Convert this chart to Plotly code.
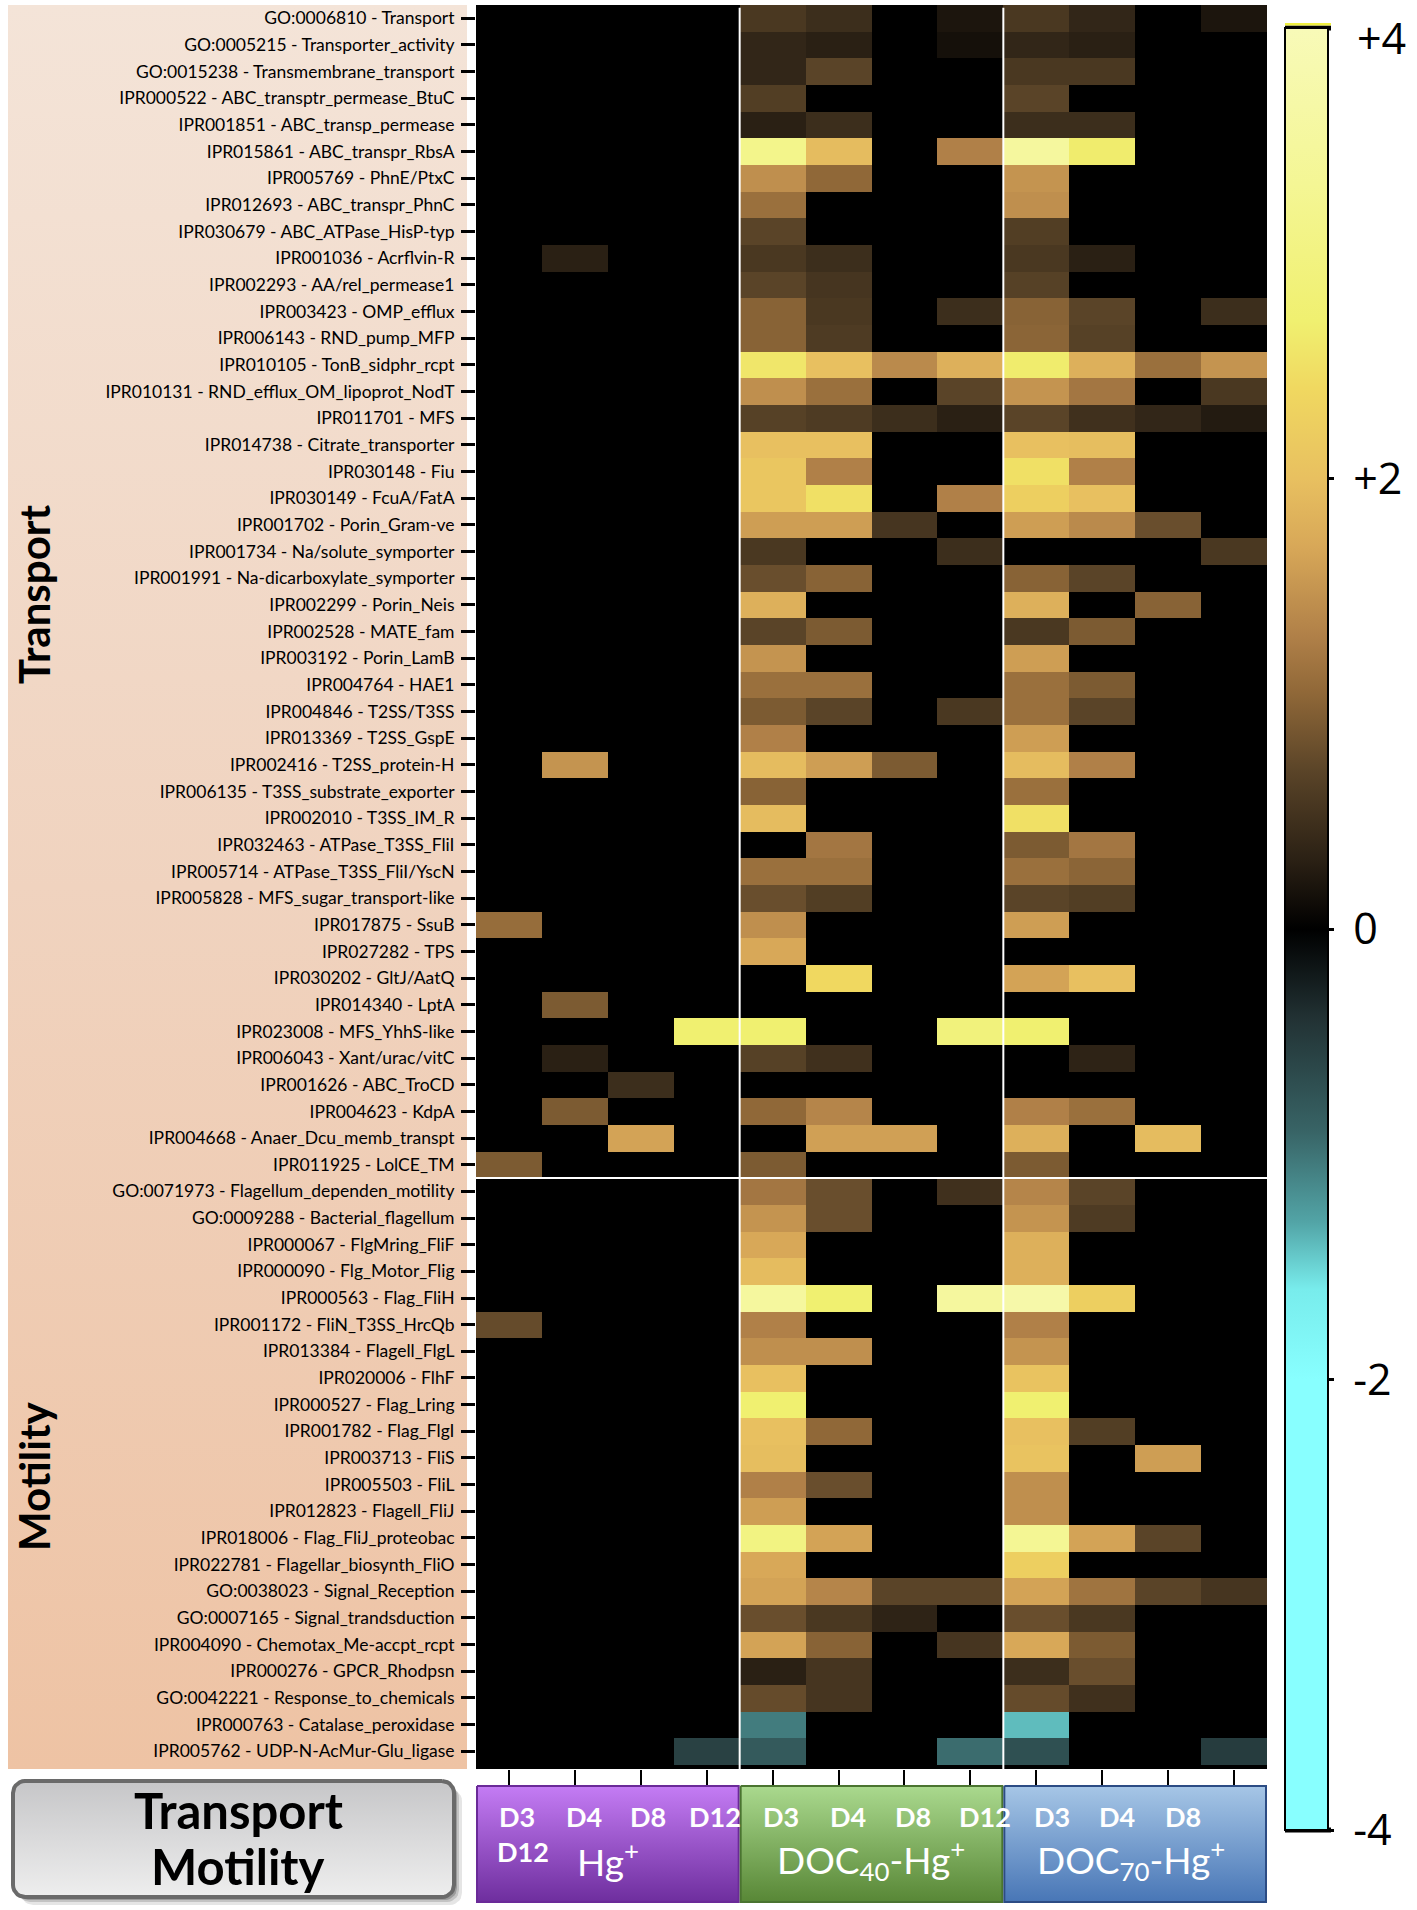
import numpy as np
import plotly.graph_objects as go

W, H = 1417, 1910

row_labels = [
    "GO:0006810 - Transport", "GO:0005215 - Transporter_activity", "GO:0015238 - Transmembrane_transport",
    "IPR000522 - ABC_transptr_permease_BtuC", "IPR001851 - ABC_transp_permease", "IPR015861 - ABC_transpr_RbsA",
    "IPR005769 - PhnE/PtxC", "IPR012693 - ABC_transpr_PhnC", "IPR030679 - ABC_ATPase_HisP-typ",
    "IPR001036 - Acrflvin-R", "IPR002293 - AA/rel_permease1", "IPR003423 - OMP_efflux",
    "IPR006143 - RND_pump_MFP", "IPR010105 - TonB_sidphr_rcpt", "IPR010131 - RND_efflux_OM_lipoprot_NodT",
    "IPR011701 - MFS", "IPR014738 - Citrate_transporter", "IPR030148 - Fiu",
    "IPR030149 - FcuA/FatA", "IPR001702 - Porin_Gram-ve", "IPR001734 - Na/solute_symporter",
    "IPR001991 - Na-dicarboxylate_symporter", "IPR002299 - Porin_Neis", "IPR002528 - MATE_fam",
    "IPR003192 - Porin_LamB", "IPR004764 - HAE1", "IPR004846 - T2SS/T3SS",
    "IPR013369 - T2SS_GspE", "IPR002416 - T2SS_protein-H", "IPR006135 - T3SS_substrate_exporter",
    "IPR002010 - T3SS_IM_R", "IPR032463 - ATPase_T3SS_FliI", "IPR005714 - ATPase_T3SS_FliI/YscN",
    "IPR005828 - MFS_sugar_transport-like", "IPR017875 - SsuB", "IPR027282 - TPS",
    "IPR030202 - GltJ/AatQ", "IPR014340 - LptA", "IPR023008 - MFS_YhhS-like",
    "IPR006043 - Xant/urac/vitC", "IPR001626 - ABC_TroCD", "IPR004623 - KdpA",
    "IPR004668 - Anaer_Dcu_memb_transpt", "IPR011925 - LolCE_TM",
    "GO:0071973 - Flagellum_dependen_motility", "GO:0009288 - Bacterial_flagellum", "IPR000067 - FlgMring_FliF",
    "IPR000090 - Flg_Motor_Flig", "IPR000563 - Flag_FliH", "IPR001172 - FliN_T3SS_HrcQb",
    "IPR013384 - Flagell_FlgL", "IPR020006 - FlhF", "IPR000527 - Flag_Lring",
    "IPR001782 - Flag_FlgI", "IPR003713 - FliS", "IPR005503 - FliL",
    "IPR012823 - Flagell_FliJ", "IPR018006 - Flag_FliJ_proteobac", "IPR022781 - Flagellar_biosynth_FliO",
    "GO:0038023 - Signal_Reception", "GO:0007165 - Signal_trandsduction", "IPR004090 - Chemotax_Me-accpt_rcpt",
    "IPR000276 - GPCR_Rhodpsn", "GO:0042221 - Response_to_chemicals", "IPR000763 - Catalase_peroxidase",
    "IPR005762 - UDP-N-AcMur-Glu_ligase",
]
n_transport = 44

days = ["D3", "D4", "D8", "D12"]
group_names = ["Hg<sup>+</sup>", "DOC<sub>40</sub>-Hg<sup>+</sup>", "DOC<sub>70</sub>-Hg<sup>+</sup>"]

# log fold change values, columns D3, D4, D8, D12
hg_vals = [
    [0, 0, 0, 0], [0, 0, 0, 0], [0, 0, 0, 0], [0, 0, 0, 0], [0, 0, 0, 0], [0, 0, 0, 0],
    [0, 0, 0, 0], [0, 0, 0, 0], [0, 0, 0, 0], [0, 0.3, 0, 0], [0, 0, 0, 0], [0, 0, 0, 0],
    [0, 0, 0, 0], [0, 0, 0, 0], [0, 0, 0, 0], [0, 0, 0, 0], [0, 0, 0, 0], [0, 0, 0, 0],
    [0, 0, 0, 0], [0, 0, 0, 0], [0, 0, 0, 0], [0, 0, 0, 0], [0, 0, 0, 0], [0, 0, 0, 0],
    [0, 0, 0, 0], [0, 0, 0, 0], [0, 0, 0, 0], [0, 0, 0, 0], [0, 1.5, 0, 0], [0, 0, 0, 0],
    [0, 0, 0, 0], [0, 0, 0, 0], [0, 0, 0, 0], [0, 0, 0, 0], [1.1, 0, 0, 0], [0, 0, 0, 0],
    [0, 0, 0, 0], [0, 0.92, 0, 0], [0, 0, 0, 2.7], [0, 0.3, 0, 0], [0, 0, 0.45, 0], [0, 0.92, 0, 0],
    [0, 0, 1.65, 0], [0.92, 0, 0, 0],
    [0, 0, 0, 0], [0, 0, 0, 0], [0, 0, 0, 0], [0, 0, 0, 0], [0, 0, 0, 0], [0.77, 0, 0, 0],
    [0, 0, 0, 0], [0, 0, 0, 0], [0, 0, 0, 0], [0, 0, 0, 0], [0, 0, 0, 0], [0, 0, 0, 0],
    [0, 0, 0, 0], [0, 0, 0, 0], [0, 0, 0, 0], [0, 0, 0, 0], [0, 0, 0, 0], [0, 0, 0, 0],
    [0, 0, 0, 0], [0, 0, 0, 0], [0, 0, 0, 0], [0, 0, 0, -0.55],
]

doc40_vals = [
    [0.57, 0.45, 0, 0.2], [0.37, 0.3, 0, 0.15], [0.37, 0.7, 0, 0], [0.63, 0, 0, 0], [0.3, 0.45, 0, 0],
    [3.15, 1.95, 0, 1.3], [1.45, 1.05, 0, 0], [1.13, 0, 0, 0], [0.7, 0, 0, 0], [0.57, 0.45, 0, 0],
    [0.7, 0.53, 0, 0], [1.0, 0.57, 0, 0.45], [1.0, 0.6, 0, 0], [2.58, 2.0, 1.4, 1.8], [1.45, 1.13, 0, 0.7],
    [0.67, 0.6, 0.45, 0.3], [2.0, 2.0, 0, 0], [2.1, 1.3, 0, 0], [2.1, 2.5, 0, 1.3], [1.6, 1.6, 0.53, 0],
    [0.57, 0, 0, 0.45], [0.8, 1.0, 0, 0], [1.8, 0, 0, 0], [0.7, 0.92, 0, 0], [1.5, 0, 0, 0],
    [1.13, 1.13, 0, 0], [0.92, 0.7, 0, 0.57], [1.3, 0, 0, 0], [1.95, 1.6, 0.92, 0], [1.0, 0, 0, 0],
    [1.95, 0, 0, 0], [0, 1.2, 0, 0], [1.13, 1.13, 0, 0], [0.8, 0.63, 0, 0], [1.45, 0, 0, 0],
    [1.7, 0, 0, 0], [0, 2.4, 0, 0], [0, 0, 0, 0], [2.7, 0, 0, 2.9], [0.67, 0.48, 0, 0],
    [0, 0, 0, 0], [1.05, 1.35, 0, 0], [0, 1.62, 1.62, 0], [0.92, 0, 0, 0],
    [1.2, 0.8, 0, 0.48], [1.5, 0.8, 0, 0], [1.7, 0, 0, 0], [1.95, 0, 0, 0], [3.5, 2.7, 0, 3.5],
    [1.3, 0, 0, 0], [1.45, 1.45, 0, 0], [2.0, 0, 0, 0], [2.7, 0, 0, 0], [2.0, 1.05, 0, 0],
    [1.97, 0, 0, 0], [1.3, 0.8, 0, 0], [1.6, 0, 0, 0], [3.0, 1.65, 0, 0], [1.7, 0, 0, 0],
    [1.65, 1.35, 0.7, 0.7], [0.8, 0.57, 0.33, 0], [1.65, 1.0, 0, 0.53], [0.3, 0.53, 0, 0],
    [0.77, 0.53, 0, 0], [-1.05, 0, 0, 0], [-0.8, 0, 0, -0.95],
]

doc70_vals = [
    [0.57, 0.37, 0, 0.2], [0.37, 0.3, 0, 0], [0.57, 0.57, 0, 0], [0.7, 0, 0, 0], [0.45, 0.45, 0, 0],
    [3.5, 2.65, 0, 0], [1.5, 0, 0, 0], [1.45, 0, 0, 0], [0.63, 0, 0, 0], [0.57, 0.3, 0, 0],
    [0.67, 0, 0, 0], [1.0, 0.7, 0, 0.45], [1.02, 0.67, 0, 0], [2.65, 1.8, 1.13, 1.5], [1.5, 1.2, 0, 0.57],
    [0.7, 0.48, 0.37, 0.25], [2.0, 1.97, 0, 0], [2.5, 1.3, 0, 0], [2.25, 2.0, 0, 0], [1.6, 1.4, 0.8, 0],
    [0, 0, 0, 0.57], [1.0, 0.7, 0, 0], [1.8, 0, 1.0, 0], [0.57, 0.92, 0, 0], [1.6, 0, 0, 0],
    [1.13, 0.92, 0, 0], [1.13, 0.7, 0, 0], [1.6, 0, 0, 0], [1.95, 1.3, 0, 0], [1.13, 0, 0, 0],
    [2.5, 0, 0, 0], [0.92, 1.2, 0, 0], [1.13, 1.02, 0, 0], [0.7, 0.63, 0, 0], [1.6, 0, 0, 0],
    [0, 0, 0, 0], [1.65, 2.0, 0, 0], [0, 0, 0, 0], [2.7, 0, 0, 0], [0, 0.33, 0, 0],
    [0, 0, 0, 0], [1.3, 1.13, 0, 0], [1.8, 0, 1.95, 0], [0.92, 0, 0, 0],
    [1.35, 0.7, 0, 0], [1.5, 0.6, 0, 0], [1.8, 0, 0, 0], [1.8, 0, 0, 0], [3.7, 2.25, 0, 0],
    [1.3, 0, 0, 0], [1.5, 0, 0, 0], [2.05, 0, 0, 0], [2.7, 0, 0, 0], [2.0, 0.63, 0, 0],
    [2.05, 0, 1.6, 0], [1.45, 0, 0, 0], [1.45, 0, 0, 0], [3.3, 1.65, 0.7, 0], [2.25, 0, 0, 0],
    [1.65, 1.17, 0.7, 0.53], [0.8, 0.57, 0, 0], [1.7, 0.92, 0, 0], [0.45, 0.8, 0, 0],
    [0.77, 0.48, 0, 0], [-1.4, 0, 0, 0], [-0.7, 0, 0, -0.5],
]

# colour-bar ticks; the top one (+4) sits just below the bar's end, as in the original
cbar_ticks = [2, 0, -2, -4]
cbar_ticktext = ["\u00a0+2", "\u00a00", "\u00a0-2", "\u00a0-4"]
cbar_top_label = "+4"

z = [a + b + c for a, b, c in zip(hg_vals, doc40_vals, doc70_vals)]
n_rows = len(row_labels)
n_cols = len(z[0])

colorscale = [
    [0.0, "#88ffff"], [0.25, "#88ffff"], [0.30, "#78ecec"], [0.3375, "#52a4a6"],
    [0.3875, "#386466"], [0.45, "#223234"], [0.5, "#000000"], [0.5375, "#2a2014"],
    [0.5875, "#5a4428"], [0.63125, "#906838"], [0.6625, "#b08048"], [0.7125, "#d8a858"],
    [0.75, "#e8c060"], [0.8, "#f0d860"], [0.8375, "#f0f070"], [0.9125, "#f4f694"],
    [1.0, "#f8fab8"],
]

# pixel layout
HM_L, HM_R, HM_T, HM_B = 476, 1267, 5, 1769
ROW_H = 26.66
extra_rows = (HM_B - HM_T) / ROW_H - n_rows   # black strip below the last row
CB_L, CB_T, CB_B, CB_W = 1285, 28, 1830, 43

fig = go.Figure()


def grad_rect(x0, y0, x1, y1, c_top, c_bot, line_color=None, line_width=0, mid=None):
    cs = [[0, c_top], [1, c_bot]] if mid is None else [[0, c_top], [0.5, mid], [1, c_bot]]
    fig.add_trace(go.Scatter(
        x=[x0, x1, x1, x0, x0], y=[y0, y0, y1, y1, y0], mode="lines", fill="toself",
        fillgradient=dict(type="vertical", colorscale=cs, start=y0, stop=y1),
        line=dict(color=line_color or "rgba(0,0,0,0)", width=line_width),
        hoverinfo="skip", showlegend=False, xaxis="x", yaxis="y"))


def rounded(x0, y0, x1, y1, r):
    xs, ys = [], []
    for cx, cy, a0 in [(x1 - r, y0 + r, -90), (x1 - r, y1 - r, 0), (x0 + r, y1 - r, 90), (x0 + r, y0 + r, 180)]:
        ang = np.radians(np.linspace(a0, a0 + 90, 8))
        xs += list(cx + r * np.cos(ang))
        ys += list(cy + r * np.sin(ang))
    xs.append(xs[0]); ys.append(ys[0])
    return xs, ys


# left label background
grad_rect(8, HM_T, 467, HM_B, "#F4E4D8", "#EEC3A4", mid="#F0D3BF")

# grey legend box with shadow
GB = (13, 1781, 454, 1897)
for off, alpha in [(8, 0.10), (5, 0.15), (3, 0.2)]:
    sx, sy = rounded(GB[0] + off, GB[1] + off, GB[2] + off, min(GB[3] + off, H - 1), 12)
    fig.add_trace(go.Scatter(x=sx, y=sy, mode="lines", fill="toself", fillcolor=f"rgba(0,0,0,{alpha})",
                             line=dict(width=0, color="rgba(0,0,0,0)"), hoverinfo="skip",
                             showlegend=False, xaxis="x", yaxis="y"))
gx, gy = rounded(*GB, 12)
fig.add_trace(go.Scatter(x=gx, y=gy, mode="lines", fill="toself",
                         fillgradient=dict(type="vertical", colorscale=[[0, "#C6C6C8"], [1, "#EEEEEE"]],
                                           start=GB[1], stop=GB[3]),
                         line=dict(color="#6a6a6a", width=4), hoverinfo="skip", showlegend=False,
                         xaxis="x", yaxis="y"))

# condition boxes
col_w = (HM_R - HM_L) / n_cols
box_colors = [("#C47CF4", "#6E2E9E", "#6a2a98"), ("#AAD98E", "#588736", "#4a7430"), ("#A6C6E6", "#4876B6", "#2c4c84")]
for g in range(3):
    bx0 = HM_L + g * 4 * col_w
    bx1 = HM_L + (g + 1) * 4 * col_w
    grad_rect(bx0 + 1, 1786, bx1 - 1, 1902, box_colors[g][0], box_colors[g][1], line_color=box_colors[g][2], line_width=2)

annotations = []
annotations.append(dict(x=34, y=595, xref="x", yref="y", text="<b>Transport</b>", textangle=-90, showarrow=False,
                        font=dict(family="Lato", size=42, color="black")))
annotations.append(dict(x=34, y=1476, xref="x", yref="y", text="<b>Motility</b>", textangle=-90, showarrow=False,
                        font=dict(family="Lato", size=42, color="black")))
annotations.append(dict(x=238, y=1810, xref="x", yref="y", text="<b>Transport</b>", showarrow=False,
                        font=dict(family="Lato", size=49, color="black")))
annotations.append(dict(x=238, y=1866, xref="x", yref="y", text="<b>Motility</b>", showarrow=False,
                        font=dict(family="Lato", size=49, color="black")))
annotations.append(dict(x=1355, y=37, xref="x", yref="y", xanchor="left", text=cbar_top_label, showarrow=False,
                        font=dict(family="Open Sans", size=43, color="black")))

# day labels: the original artwork lays them out with a shifted wrap
label_slots = [(517, "D3"), (584, "D4"), (648, "D8"), (715, "D12"),
               (781, "D3"), (848, "D4"), (913, "D8"), (985, "D12"),
               (1052, "D3"), (1117, "D4"), (1183, "D8")]
for lx, t in label_slots:
    annotations.append(dict(x=lx, y=1816, xref="x", yref="y", text=f"<b>{t}</b>", showarrow=False,
                            font=dict(family="Lato", size=27, color="white")))
annotations.append(dict(x=523, y=1851, xref="x", yref="y", text="<b>D12</b>", showarrow=False,
                        font=dict(family="Lato", size=27, color="white")))
for lx, t in zip([608, 871, 1131], group_names):
    annotations.append(dict(x=lx, y=1859, xref="x", yref="y", text=t, showarrow=False,
                            font=dict(family="Lato", size=37, color="white")))

fig.add_trace(go.Heatmap(
    z=z, x=list(range(n_cols)), y=list(range(n_rows)), zmin=-4, zmax=4, colorscale=colorscale,
    xaxis="x2", yaxis="y2", hoverinfo="skip",
    colorbar=dict(x=CB_L / W, xanchor="left", y=1 - CB_T / H, yanchor="top", len=(CB_B - CB_T) / H,
                  lenmode="fraction", thickness=CB_W, outlinewidth=2, outlinecolor="black", xpad=0, ypad=0,
                  tickvals=cbar_ticks, ticktext=cbar_ticktext, ticks="outside", ticklen=5, tickwidth=3,
                  tickcolor="black", ticklabeloverflow="allow",
                  tickfont=dict(family="Open Sans", size=43, color="black")),
))

shapes = []
# black frame strip under the last row
shapes.append(dict(type="rect", xref="x2", yref="y2", x0=-0.5, x1=n_cols - 0.5, y0=-0.5,
                   y1=n_rows - 0.5 + extra_rows, fillcolor="black", line=dict(width=0), layer="below"))
for xb in [3.5, 7.5]:
    shapes.append(dict(type="line", xref="x2", yref="y2", x0=xb, x1=xb, y0=-0.4, y1=n_rows - 0.5 + extra_rows,
                       line=dict(color="white", width=2)))
shapes.append(dict(type="line", xref="x2", yref="y2", x0=-0.5, x1=n_cols - 0.5, y0=n_transport - 0.5,
                   y1=n_transport - 0.5, line=dict(color="white", width=2)))
# heavy end marks of the colour bar
for yy in [CB_T, CB_B]:
    shapes.append(dict(type="rect", xref="paper", yref="paper", x0=CB_L / W, x1=(CB_L + CB_W + 3) / W,
                       y0=1 - (yy - 2.5) / H, y1=1 - (yy + 2.5) / H, fillcolor="black", line=dict(width=0)))
# thin yellow rim above the top mark
shapes.append(dict(type="rect", xref="paper", yref="paper", x0=CB_L / W, x1=(CB_L + CB_W + 3) / W,
                   y0=1 - (CB_T - 2.5) / H, y1=1 - (CB_T - 5) / H, fillcolor="#f0f040", line=dict(width=0)))

fig.update_layout(
    width=W, height=H, margin=dict(l=0, r=0, t=0, b=0, autoexpand=False),
    paper_bgcolor="white", plot_bgcolor="rgba(0,0,0,0)", showlegend=False,
    xaxis=dict(domain=[0, 1], range=[0, W], visible=False, anchor="y", fixedrange=True),
    yaxis=dict(domain=[0, 1], range=[H, 0], visible=False, anchor="x", fixedrange=True),
    xaxis2=dict(domain=[HM_L / W, HM_R / W], range=[-0.5, n_cols - 0.5], anchor="y2",
                showticklabels=False, ticks="outside", ticklen=15, tickwidth=2, tickcolor="black",
                tickvals=list(range(n_cols)), showgrid=False, zeroline=False, showline=False),
    yaxis2=dict(domain=[1 - HM_B / H, 1 - HM_T / H], range=[n_rows - 0.5 + extra_rows, -0.5], anchor="x2",
                tickvals=list(range(n_rows)), ticktext=row_labels, ticks="outside", ticklen=14,
                tickwidth=3, tickcolor="black", showgrid=False, zeroline=False, showline=False,
                ticklabelstandoff=3, tickfont=dict(family="Lato", size=17.5, color="black")),
    shapes=shapes, annotations=annotations,
)

fig.write_html("out.html", config={"displayModeBar": False},
               post_script="document.body.style.margin='0px';document.body.style.padding='0px';")
